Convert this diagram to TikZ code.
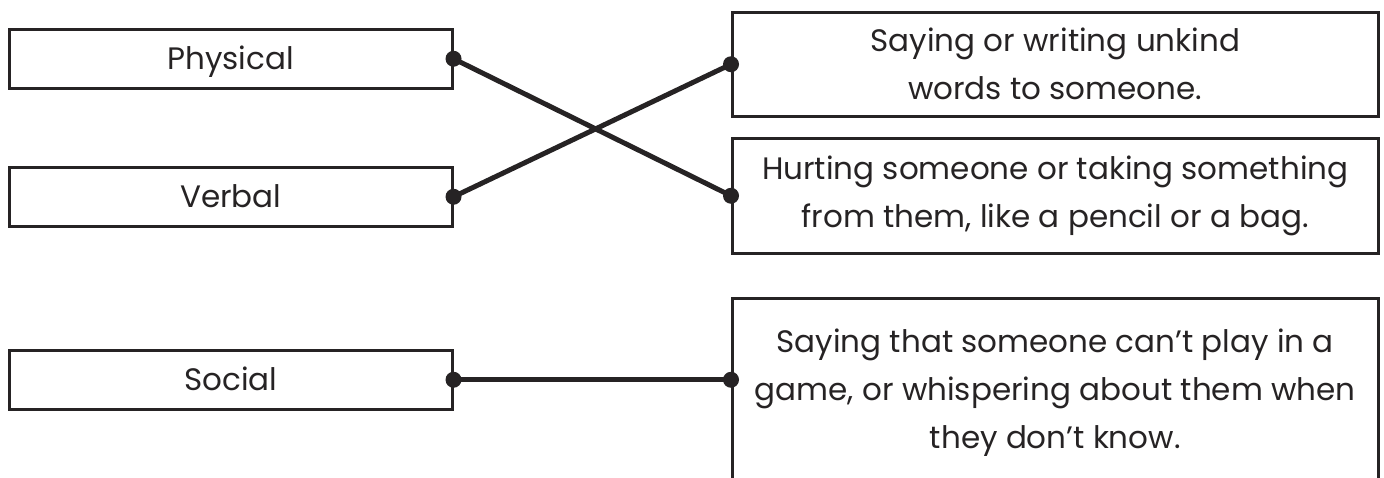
\documentclass[tikz,border=0pt]{standalone}
\usepackage{fontspec}
\setmainfont{Poppins}
\definecolor{ink}{HTML}{262324}
\begin{document}
\begin{tikzpicture}[x=1pt,y=-1pt,
  every node/.style={text=ink, font=\fontsize{31}{48}\selectfont},
  leftbox/.style={draw=ink, line width=2.5pt, minimum width=443pt, minimum height=59pt, inner sep=0pt, anchor=north west, text height=22pt, text depth=0pt},
  rightbox/.style={draw=ink, line width=2.5pt, minimum width=646pt, inner sep=0pt, anchor=north west, align=center},
  link/.style={draw=ink, line width=5pt},
  dot/.style={fill=ink}
]
\useasboundingbox (0,0) rectangle (1384,477);
\clip (0,0) rectangle (1384,477);
\node[leftbox] (phy) at (8,28) {Physical};
\node[leftbox] (ver) at (8,166) {Verbal};
\node[leftbox] (soc) at (8,349) {Social};
\node[rightbox, minimum height=104pt] (r1) at (731,11) {Saying or writing unkind\\words to someone.};
\node[rightbox, minimum height=115pt] (r2) at (731,137) {Hurting someone or taking something\\from them, like a pencil or a bag.};
\node[rightbox, minimum height=189pt] (r3) at (731,297) {Saying that someone can’t play in a\\game, or whispering about them when\\they don’t know.};
\coordinate (r3dot) at (r3.north west |- soc.east);
\draw[link] (phy.east) -- (r2.west);
\draw[link] (ver.east) -- (r1.west);
\draw[link] (soc.east) -- (r3dot);
\foreach \p in {phy.east, ver.east, soc.east, r1.west, r2.west, r3dot}
  \fill[dot] (\p) circle (8pt);
\end{tikzpicture}
\end{document}
